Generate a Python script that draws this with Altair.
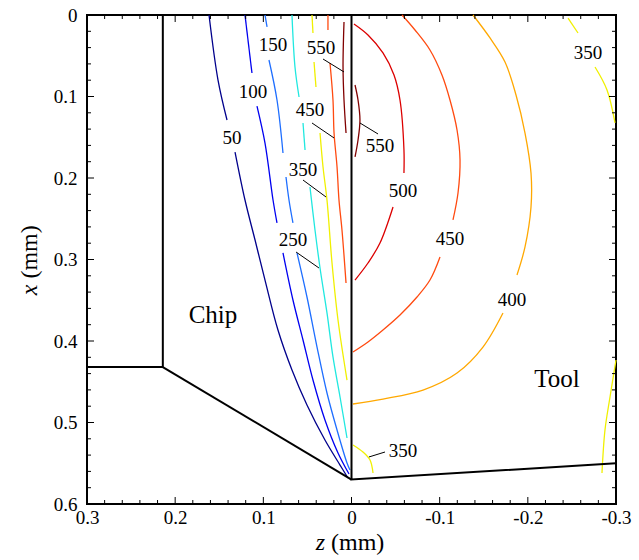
import altair as alt
import pandas as pd

# Isotherm levels (°C) and their line colours
LEVELS = ["50", "100", "150", "250", "350", "400", "450", "500", "550"]
LEVEL_COLORS = ["#00008c", "#0000f0", "#1e6eff", "#20e8e0", "#f0f000",
                "#ffa800", "#ff4a10", "#dc0000", "#800000"]

# Isotherms: lists of polyline pieces of (z, x) points in mm.
# Pieces are split where the inline labels sit.
ISO_50 = [
    [(0.1616, 0.0), (0.1514, 0.0798), (0.1412, 0.1288)],
    [(0.1321, 0.1681), (0.1208, 0.2270), (0.1094, 0.2761), (0.0981, 0.3252),
     (0.0834, 0.3865), (0.0675, 0.4356), (0.0505, 0.4785), (0.0301, 0.5215),
     (0.0130, 0.5522), (0.0040, 0.5681)],
]
ISO_100 = [
    [(0.1208, 0.0), (0.1129, 0.0712)],
    [(0.1072, 0.1117), (0.0981, 0.1571), (0.0890, 0.2270), (0.0845, 0.2552)],
    [(0.0777, 0.2920), (0.0664, 0.3497), (0.0550, 0.3988), (0.0437, 0.4479),
     (0.0301, 0.4969), (0.0153, 0.5374), (0.0028, 0.5632)],
]
ISO_150 = [
    [(0.0981, 0.0), (0.0958, 0.0147)],
    [(0.0936, 0.0552), (0.0845, 0.1043), (0.0777, 0.1693)],
    [(0.0743, 0.1988), (0.0709, 0.2270), (0.0664, 0.2552)],
    [(0.0618, 0.2920), (0.0505, 0.3460), (0.0391, 0.4074), (0.0278, 0.4638),
     (0.0164, 0.5092), (0.0051, 0.5497), (0.0017, 0.5583)],
]
ISO_250 = [
    [(0.0675, 0.0), (0.0641, 0.0638), (0.0595, 0.1006)],
    [(0.0550, 0.1325), (0.0527, 0.1656)],
    [(0.0471, 0.2110), (0.0414, 0.2638), (0.0357, 0.3104), (0.0278, 0.3656),
     (0.0210, 0.4196), (0.0130, 0.4687), (0.0051, 0.5190)],
]
ISO_350_CHIP = [
    [(0.0448, 0.0), (0.0437, 0.0221)],
    [(0.0425, 0.0577), (0.0403, 0.0883)],
    [(0.0357, 0.1448), (0.0323, 0.1865), (0.0278, 0.2270), (0.0221, 0.3043),
     (0.0153, 0.3742), (0.0051, 0.4479)],
]
ISO_450_CHIP = [
    [(0.0267, 0.0), (0.0267, 0.0184)],
    [(0.0244, 0.0589), (0.0210, 0.1043), (0.0198, 0.1448), (0.0164, 0.1865),
     (0.0142, 0.2270), (0.0108, 0.2638), (0.0062, 0.3288)],
]
ISO_550_CHIP = [
    [(0.0085, 0.0086), (0.0096, 0.0638), (0.0085, 0.1043), (0.0062, 0.1448)],
]
ISO_550_TOOL = [
    [(-0.0040, 0.0859), (-0.0074, 0.1043), (-0.0096, 0.1288), (-0.0074, 0.1534),
     (-0.0040, 0.1742)],
]
ISO_500_TOOL = [
    [(-0.0028, 0.0110), (-0.0187, 0.0245), (-0.0357, 0.0466), (-0.0482, 0.0736),
     (-0.0550, 0.1043), (-0.0595, 0.1656), (-0.0595, 0.1939)],
    [(-0.0471, 0.2356), (-0.0323, 0.2798), (-0.0187, 0.3043), (-0.0040, 0.3252)],
]
ISO_450_TOOL = [
    [(-0.0573, 0.0), (-0.0720, 0.0184), (-0.0890, 0.0429), (-0.1026, 0.0736),
     (-0.1117, 0.1043), (-0.1197, 0.1411), (-0.1231, 0.1779), (-0.1208, 0.2184),
     (-0.1151, 0.2515)],
    [(-0.1004, 0.2969), (-0.0890, 0.3252), (-0.0743, 0.3460), (-0.0550, 0.3681),
     (-0.0357, 0.3865), (-0.0187, 0.4012), (-0.0017, 0.4135)],
]
ISO_400_TOOL = [
    [(-0.1378, 0.0), (-0.1571, 0.0282), (-0.1741, 0.0577), (-0.1866, 0.0982),
     (-0.1968, 0.1448), (-0.2036, 0.1939), (-0.2036, 0.2356), (-0.1968, 0.2846),
     (-0.1877, 0.3190)],
    [(-0.1718, 0.3656), (-0.1491, 0.4074), (-0.1197, 0.4393), (-0.0811, 0.4602),
     (-0.0357, 0.4712), (-0.0017, 0.4773)],
]
ISO_350_TOOL_TOP = [
    [(-0.2456, 0.0037), (-0.2569, 0.0221)],
    [(-0.2762, 0.0638), (-0.2898, 0.0920), (-0.2989, 0.1325)],
]
ISO_350_TOOL_RIGHT = [
    [(-0.3000, 0.4233), (-0.2932, 0.4687), (-0.2875, 0.5092), (-0.2841, 0.5620)],
]
ISO_350_TOOL_TIP = [
    [(-0.0017, 0.5276), (-0.0130, 0.5362), (-0.0210, 0.5460), (-0.0244, 0.5620)],
]

ISOTHERMS = [
    ("50", "c50", ISO_50), ("100", "c100", ISO_100), ("150", "c150", ISO_150),
    ("250", "c250", ISO_250), ("350", "c350", ISO_350_CHIP),
    ("450", "c450", ISO_450_CHIP), ("550", "c550", ISO_550_CHIP),
    ("550", "t550", ISO_550_TOOL), ("500", "t500", ISO_500_TOOL),
    ("450", "t450", ISO_450_TOOL), ("400", "t400", ISO_400_TOOL),
    ("350", "t350a", ISO_350_TOOL_TOP), ("350", "t350b", ISO_350_TOOL_RIGHT),
    ("350", "t350c", ISO_350_TOOL_TIP),
]

# Inline isotherm labels
LABEL_TEXT = ["50", "100", "150", "550", "450", "350", "250",
              "550", "500", "450", "400", "350", "350"]
LABEL_Z = [0.1355, 0.1117, 0.0890, 0.0346, 0.0471, 0.0550, 0.0664,
           -0.0323, -0.0584, -0.1117, -0.1820, -0.2682, -0.0584]
LABEL_X = [0.1509, 0.0945, 0.0368, 0.0405, 0.1166, 0.1902, 0.2761,
           0.1607, 0.2160, 0.2748, 0.3497, 0.0466, 0.5350]

# Leader lines from labels to their isotherms
LEADER_Z1 = [0.0323, 0.0448, 0.0550, 0.0629, -0.0096, -0.0198]
LEADER_X1 = [0.0540, 0.1325, 0.2025, 0.2908, 0.1325, 0.5423]
LEADER_Z2 = [0.0085, 0.0198, 0.0289, 0.0369, -0.0301, -0.0380]
LEADER_X2 = [0.0699, 0.1509, 0.2233, 0.3104, 0.1460, 0.5362]

# Chip / tool geometry outline pieces
OUTLINE_Z = [[0.3, 0.214, 0.214], [0.214, 0.0], [0.0, 0.0, -0.3]]
OUTLINE_X = [[0.432, 0.432, 0.0], [0.432, 0.57], [0.0, 0.57, 0.55]]

REGION_TEXT = ["Chip", "Tool"]
REGION_Z = [0.1571, -0.2331]
REGION_X = [0.3681, 0.4466]

# Axis ticks
Z_MAJOR = [0.3, 0.2, 0.1, 0.0, -0.1, -0.2, -0.3]
X_MAJOR = [0.0, 0.1, 0.2, 0.3, 0.4, 0.5, 0.6]
Z_MINOR = [round(-0.3 + 0.02 * k, 2) for k in range(31) if k % 5 != 0]
X_MINOR = [round(0.02 * k, 2) for k in range(31) if k % 5 != 0]

W, H = 529, 489
SERIF = "Liberation Serif"

X_SCALE = alt.Scale(domain=[-0.3, 0.3], reverse=True, nice=False, zero=False)
Y_SCALE = alt.Scale(domain=[0.0, 0.6], reverse=True, nice=False, zero=False)

X_AXIS = alt.Axis(values=Z_MAJOR, title="", grid=False, ticks=False, tickSize=0,
                  domain=False, labelFlush=False, labelOverlap=False, labelPadding=4,
                  labelExpr="datum.value == 0 ? '0' : replace(format(datum.value, '.1f'), '\u2212', '-')")
Y_AXIS = alt.Axis(values=X_MAJOR, title="", grid=False, ticks=False, tickSize=0,
                  domain=False, labelFlush=False, labelOverlap=False, labelPadding=10,
                  labelExpr="datum.value == 0 ? '0' : format(datum.value, '.1f')")


def zx(zfield="z", xfield="x"):
    return dict(x=alt.X(f"{zfield}:Q", scale=X_SCALE, axis=X_AXIS),
                y=alt.Y(f"{xfield}:Q", scale=Y_SCALE, axis=Y_AXIS))


# ---- tables ----
iso_rows = []
for level, name, pieces in ISOTHERMS:
    for k, piece in enumerate(pieces):
        for i, (z, x) in enumerate(piece):
            iso_rows.append({"level": level, "seg": f"{name}-{k}", "i": i, "z": z, "x": x})
iso_df = pd.DataFrame(iso_rows)

out_rows = []
for k, (zs, xs) in enumerate(zip(OUTLINE_Z, OUTLINE_X)):
    for i, (z, x) in enumerate(zip(zs, xs)):
        out_rows.append({"seg": f"o{k}", "i": i, "z": z, "x": x})
out_df = pd.DataFrame(out_rows)

label_df = pd.DataFrame({"text": LABEL_TEXT, "z": LABEL_Z, "x": LABEL_X})
leader_df = pd.DataFrame({"z": LEADER_Z1, "x": LEADER_X1, "z2": LEADER_Z2, "x2": LEADER_X2})
region_df = pd.DataFrame({"text": REGION_TEXT, "z": REGION_Z, "x": REGION_X})

# Smooth curves through the sampled isotherm points
isotherms = alt.Chart(iso_df).mark_line(strokeWidth=1.3, interpolate="catmull-rom").encode(
    **zx(),
    color=alt.Color("level:N", scale=alt.Scale(domain=LEVELS, range=LEVEL_COLORS), legend=None),
    detail="seg:N",
    order="i:Q",
)

outline = alt.Chart(out_df).mark_line(color="black", strokeWidth=2).encode(
    **zx(), detail="seg:N", order="i:Q",
)

leaders = alt.Chart(leader_df).mark_rule(color="black", strokeWidth=1).encode(
    **zx(), x2="z2:Q", y2="x2:Q",
)

labels = alt.Chart(label_df).mark_text(font=SERIF, fontSize=19, color="black",
                                       align="center", baseline="middle").encode(
    **zx(), text="text:N",
)

regions = alt.Chart(region_df).mark_text(font=SERIF, fontSize=25, color="black",
                                         align="center", baseline="middle").encode(
    **zx(), text="text:N",
)


def z_ticks(values, length):
    df = pd.DataFrame({"z": values})
    enc_x = alt.X("z:Q", scale=X_SCALE, axis=X_AXIS)
    bottom = alt.Chart(df).mark_rule(color="black", strokeWidth=1).encode(
        x=enc_x, y=alt.value(H), y2=alt.value(H - length))
    top = alt.Chart(df).mark_rule(color="black", strokeWidth=1).encode(
        x=enc_x, y=alt.value(0), y2=alt.value(length))
    return [bottom, top]


def x_ticks(values, length):
    df = pd.DataFrame({"x": values})
    enc_y = alt.Y("x:Q", scale=Y_SCALE, axis=Y_AXIS)
    left = alt.Chart(df).mark_rule(color="black", strokeWidth=1).encode(
        y=enc_y, x=alt.value(0), x2=alt.value(length))
    right = alt.Chart(df).mark_rule(color="black", strokeWidth=1).encode(
        y=enc_y, x=alt.value(W), x2=alt.value(W - length))
    return [left, right]


ticks = z_ticks(Z_MAJOR, 7) + z_ticks(Z_MINOR, 4) + x_ticks(X_MAJOR, 7) + x_ticks(X_MINOR, 4)

# Axis titles with an italic variable name
one = pd.DataFrame({"k": [0]})


def title_part(text, x, y, italic, angle=0):
    kw = dict(font=SERIF, fontSize=24, color="black", align="left", baseline="middle")
    if italic:
        kw["fontStyle"] = "italic"
    if angle:
        kw["angle"] = angle
    return alt.Chart(one).mark_text(**kw).encode(
        x=alt.value(x), y=alt.value(y), text=alt.value(text))


titles = [
    title_part("z", 228.7, 528, True),
    title_part("(mm)", 244, 528, False),
    title_part("x", -57, 280.3, True, 270),
    title_part("(mm)", -57, 263.6, False, 270),
]

chart = alt.layer(isotherms, outline, leaders, labels, regions, *ticks, *titles).properties(
    width=W,
    height=H,
    padding={"left": 87, "top": 15, "right": 23, "bottom": 56},
    autosize=alt.AutoSizeParams(type="none"),
).configure_view(
    stroke="black", strokeWidth=2
).configure_axis(
    labelFont=SERIF, labelFontSize=19, labelColor="black"
)

chart.save("out.html", embed_options={"renderer": "svg", "actions": False})
